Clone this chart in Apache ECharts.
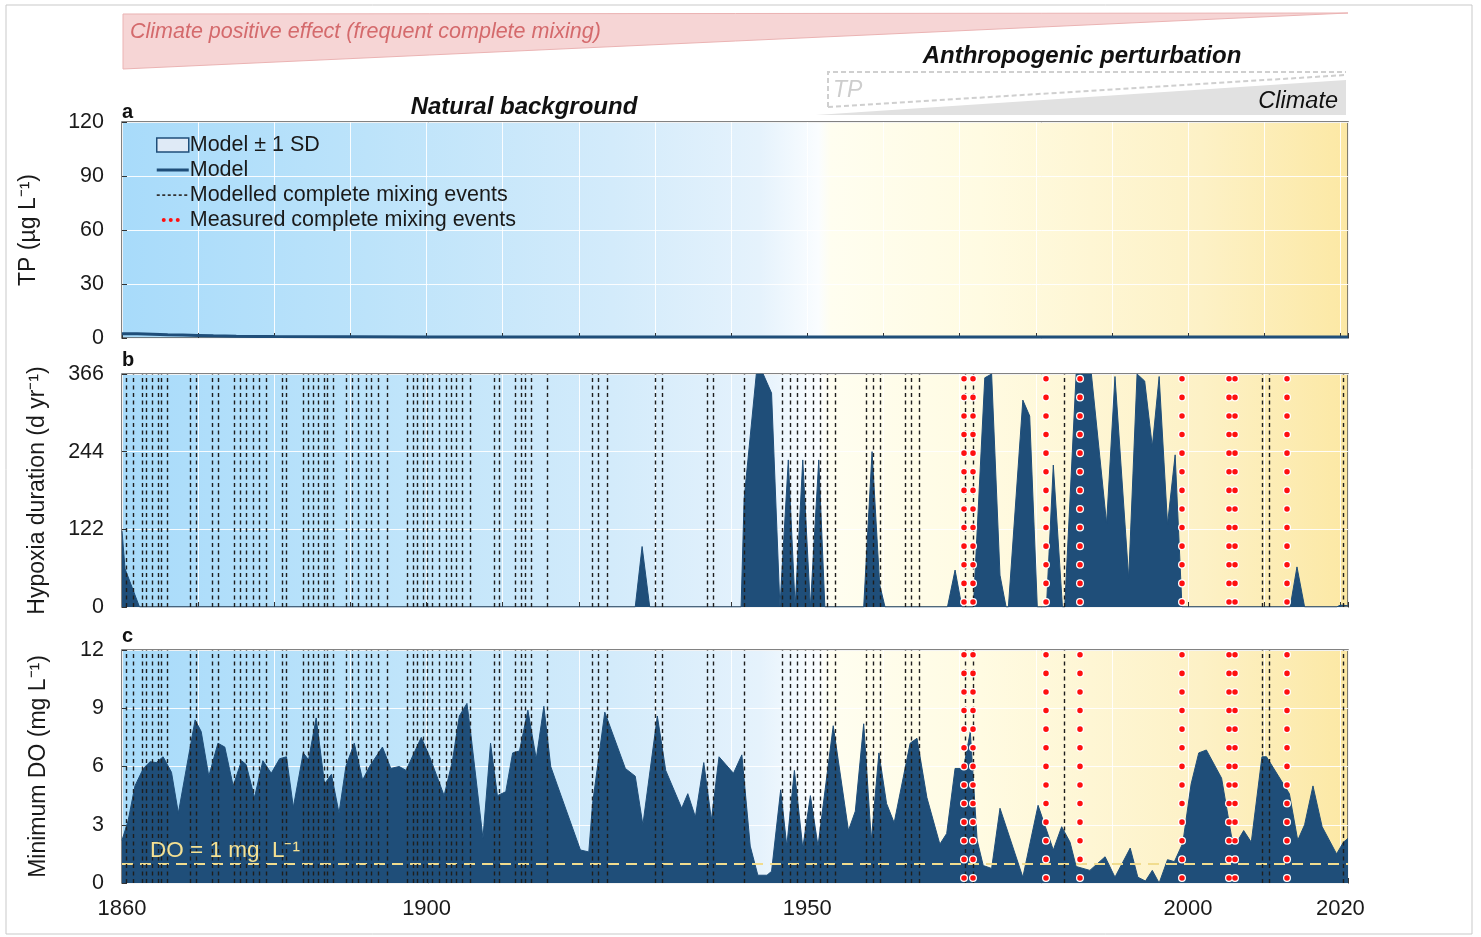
<!DOCTYPE html>
<html><head><meta charset="utf-8">
<script src="https://cdn.jsdelivr.net/npm/echarts@6/dist/echarts.min.js"></script>
<style>html,body{margin:0;padding:0;background:#fff}#c{width:1481px;height:937px}</style>
</head><body><div id="c"></div>
<script>
// ---------------- data ----------------
const X_LABELS = [1860, 1900, 1950, 2000, 2020];
const TP_YEARS  = [1860, 1862, 1864, 1866, 1868, 1870, 1872, 1875, 1878, 1880, 1890, 1900, 1920, 1940, 1960, 1980, 2000, 2021];
const TP_MODEL  = [2.4, 2.3, 2.1, 1.8, 1.6, 1.4, 1.2, 1.0, 0.9, 0.8, 0.7, 0.6, 0.6, 0.6, 0.6, 0.6, 0.6, 0.6];
const TP_SD_LOW = [1.4, 1.4, 1.3, 1.1, 1.0, 0.9, 0.8, 0.7, 0.6, 0.5, 0.4, 0.4, 0.4, 0.4, 0.4, 0.4, 0.4, 0.4];
const TP_SD_HIGH= [3.6, 3.4, 3.1, 2.7, 2.4, 2.0, 1.7, 1.4, 1.2, 1.1, 0.9, 0.8, 0.8, 0.8, 0.8, 0.8, 0.8, 0.8];

const HYPOXIA_YEARS = [1860.0, 1860.4, 1862.3, 1927.4, 1928.3, 1929.3, 1941.3, 1941.7, 1943.3, 1944.2, 1945.3, 1946.4,
  1946.5, 1947.5, 1948.4, 1948.5, 1949.4, 1950.4, 1950.5, 1951.5, 1952.3, 1957.4, 1958.5, 1959.5, 1960.2,
  1968.4, 1969.4, 1970.3, 1971.8, 1973.3, 1974.2, 1975.3, 1976.1, 1976.4, 1978.3, 1979.2, 1980.2,
  1981.4, 1982.3, 1983.5, 1983.8, 1985.3, 1987.3, 1989.3, 1990.4, 1992.2, 1993.3, 1994.3, 1995.3, 1996.2,
  1997.3, 1998.3, 1999.2, 2013.4, 2014.3, 2015.3, 2019.5, 2020.0, 2021.0];
const HYPOXIA_DAYS = [120, 60, 0, 0, 95, 0, 0, 170, 366, 366, 336, 0,
  0, 231, 0, 0, 231, 0, 0, 231, 0, 0, 244, 35, 0,
  0, 58, 0, 0, 360, 366, 50, 0, 0, 325, 300, 0,
  0, 223, 0, 0, 366, 366, 131, 362, 45, 366, 355, 252, 362,
  130, 239, 0, 0, 63, 0, 0, 3, 2];

const DO_YEARS = [1860.0, 1860.8, 1861.7, 1862.8, 1863.7, 1864.5, 1865.4, 1866.5, 1867.4, 1869.6, 1870.4, 1871.4,
  1872.6, 1873.5, 1874.6, 1875.7, 1876.3, 1877.4, 1878.5, 1879.6, 1880.7, 1881.6, 1882.5, 1883.8, 1884.5,
  1885.5, 1886.6, 1887.5, 1888.5, 1889.4, 1890.5, 1891.6, 1892.5, 1894.2, 1895.3, 1896.4, 1897.3, 1899.3,
  1900.4, 1902.3, 1903.4, 1904.3, 1905.3, 1905.8, 1907.4, 1908.4, 1909.3, 1910.4, 1911.3, 1912.2, 1913.3,
  1914.4, 1915.4, 1916.3, 1917.2, 1920.2, 1921.3, 1921.8, 1923.4, 1926.1, 1927.4, 1928.4, 1930.3, 1931.4,
  1933.5, 1934.3, 1935.3, 1936.4, 1937.4, 1938.4, 1940.3, 1941.4, 1942.5, 1943.5, 1944.7, 1945.3, 1946.5,
  1947.3, 1948.3, 1949.4, 1950.4, 1951.4, 1953.4, 1955.4, 1956.3, 1957.4, 1958.4, 1959.4, 1960.4, 1961.4,
  1963.5, 1964.4, 1965.7, 1967.4, 1968.3, 1969.4, 1970.5, 1971.4, 1972.3, 1973.1, 1974.2, 1975.3, 1978.3,
  1980.3, 1982.3, 1983.4, 1984.5, 1985.3, 1987.1, 1989.1, 1990.4, 1992.4, 1993.4, 1994.4, 1995.3, 1996.2,
  1997.3, 1998.2, 1999.3, 2000.4, 2001.4, 2002.4, 2004.4, 2005.7, 2006.4, 2007.3, 2008.3, 2009.7, 2010.3,
  2013.3, 2014.4, 2015.3, 2016.4, 2017.6, 2019.5, 2020.4, 2021.0];
const DO_MIN = [2.2, 3.2, 5.0, 5.9, 6.25, 6.2, 6.5, 5.7, 3.6, 8.4, 7.8, 5.5,
  7.2, 7.0, 5.0, 6.3, 6.1, 4.4, 6.3, 5.65, 6.4, 6.5, 3.9, 6.7, 6.35,
  8.5, 5.1, 5.6, 3.6, 6.0, 7.2, 5.3, 6.0, 7.0, 5.9, 6.0, 5.8, 7.5,
  6.5, 4.5, 6.3, 8.6, 9.25, 7.7, 2.3, 7.2, 4.5, 4.7, 6.7, 6.8, 8.9,
  6.4, 9.1, 6.0, 5.0, 1.7, 1.6, 4.1, 8.8, 5.9, 5.5, 3.0, 8.6, 5.8,
  3.85, 4.6, 3.4, 6.2, 3.25, 6.5, 5.65, 6.6, 1.9, 0.4, 0.4, 0.6, 4.8,
  1.9, 5.8, 1.8, 4.5, 1.9, 8.1, 2.7, 3.7, 8.2, 2.2, 6.7, 4.1, 3.1,
  7.2, 7.45, 4.4, 2.0, 2.55, 5.9, 5.9, 7.8, 2.2, 0.9, 0.75, 3.85, 0.3,
  4.0, 1.7, 2.9, 2.1, 0.85, 0.65, 1.35, 0.3, 1.8, 0.3, 0.1, 0.65, 0.0,
  1.2, 1.1, 2.05, 5.1, 6.7, 6.85, 5.4, 2.4, 2.1, 2.7, 2.1, 6.5, 6.5,
  4.6, 2.2, 3.0, 5.0, 2.9, 1.5, 2.1, 2.3];

const MODELLED_EVENTS = [1860.6, 1861.5, 1862.6, 1863.2, 1864.0, 1864.8, 1865.2, 1866.0, 1869.0, 1869.8,
  1871.9, 1872.6, 1874.8, 1875.5, 1876.3, 1877.2, 1878.0, 1879.0, 1881.1, 1881.6, 1883.8, 1884.4, 1885.1,
  1885.8, 1886.5, 1887.0, 1887.8, 1889.5, 1890.2, 1891.0, 1892.1, 1892.7, 1893.6, 1894.8, 1897.5, 1898.2,
  1898.8, 1899.6, 1900.1, 1900.8, 1901.7, 1902.6, 1903.2, 1903.9, 1904.7, 1905.7, 1908.9, 1909.5, 1911.6,
  1912.4, 1913.0, 1913.7, 1915.9, 1921.8, 1922.6, 1923.7, 1930.0, 1930.9, 1936.8, 1937.6, 1941.7, 1946.7,
  1947.8, 1948.7, 1949.7, 1950.8, 1951.7, 1952.6, 1953.6, 1957.8, 1958.6, 1959.6, 1962.8, 1963.6, 1964.7,
  1970.7, 1971.8, 1983.7, 2009.7, 2010.7, 2020.4];
const MEASURED_EVENTS = [1970.6, 1971.7, 1981.3, 1985.8, 1999.2, 2005.3, 2006.1, 2012.9];
const DO_THRESHOLD = 1;

// ---------------- helpers ----------------
const FONT = '"Liberation Sans", Arial, sans-serif';
const zip = (xs, ys) => xs.map((x, i) => [x, ys[i]]);
const DARK = '#1f4e79';

const bgGradient = {type: 'linear', x: 0, y: 0, x2: 1, y2: 0, colorStops: [
  {offset: 0, color: '#a8dbfa'}, {offset: 0.2, color: '#bce3fa'}, {offset: 0.4, color: '#d3ebfb'},
  {offset: 0.52, color: '#e5f2fc'}, {offset: 0.568, color: '#fafdff'}, {offset: 0.578, color: '#fffef0'},
  {offset: 0.7, color: '#fffbe2'}, {offset: 0.88, color: '#fdf1c6'}, {offset: 1, color: '#fce8a4'}]};

const grids = [
  {left: 122, right: 133, top: 122, height: 216},
  {left: 122, right: 133, top: 374, height: 233},
  {left: 122, right: 133, top: 650, height: 233}
].map(g => Object.assign(g, {show: true, backgroundColor: bgGradient, borderColor: '#5a5a5a', borderWidth: 1.5}));

const xAxes = [0, 1, 2].map(i => ({
  type: 'value', gridIndex: i, min: 1860, max: 2021, interval: 10,
  axisLine: {show: false},
  axisTick: {show: true, inside: true, length: 5, lineStyle: {color: '#333'}},
  splitLine: {show: true, lineStyle: {color: 'rgba(255,255,255,0.9)', width: 1}},
  axisLabel: {show: i === 2, customValues: X_LABELS, formatter: v => String(v),
    fontSize: 22, color: '#1a1a1a', fontFamily: FONT, margin: 15}
}));

function yAxis(i, max, interval, name, gap) {
  return {
    type: 'value', gridIndex: i, min: 0, max: max, interval: interval,
    name: name, nameLocation: 'middle', nameGap: gap,
    nameTextStyle: {fontSize: 23, color: '#1a1a1a', fontFamily: FONT},
    axisLine: {show: false},
    axisTick: {show: true, inside: true, length: 5, lineStyle: {color: '#333'}},
    splitLine: {show: true, lineStyle: {color: 'rgba(255,255,255,0.9)', width: 1}},
    axisLabel: {fontSize: 21.5, color: '#1a1a1a', fontFamily: FONT, margin: 18}
  };
}
const yAxes = [
  yAxis(0, 120, 30, 'TP (µg L⁻¹)', 82),
  yAxis(1, 366, 122, 'Hypoxia duration (d yr⁻¹)', 73),
  yAxis(2, 12, 3, 'Minimum DO (mg L⁻¹)', 72)
];

function eventSeries(axis, name, events, style) {
  return {
    type: 'line', name: name, xAxisIndex: axis, yAxisIndex: axis, data: [], symbol: 'none', silent: true,
    lineStyle: style,
    markLine: {silent: true, symbol: ['none', 'none'], label: {show: false}, emphasis: {disabled: true},
      lineStyle: style, data: events.map(v => ({xAxis: v}))}
  };
}
const dashStyle = {color: '#1e1e1e', type: [4, 3.5], width: 1.4};
const haloStyle = {color: '#ffffff', type: [0.1, 18.5], width: 8, cap: 'round', dashOffset: -5};
const dotStyle = {color: '#ff1010', type: [0.1, 18.5], width: 5.5, cap: 'round', dashOffset: -5};

const series = [
  {type: 'line', xAxisIndex: 0, yAxisIndex: 0, stack: 'sd', symbol: 'none', silent: true,
   lineStyle: {width: 0, opacity: 0}, data: zip(TP_YEARS, TP_SD_LOW)},
  {type: 'line', name: 'Model ± 1 SD', xAxisIndex: 0, yAxisIndex: 0, stack: 'sd', symbol: 'none', silent: true,
   lineStyle: {width: 1, color: DARK}, itemStyle: {color: '#dce8f4'},
   areaStyle: {color: '#dce8f4', opacity: 1}, data: zip(TP_YEARS, TP_SD_HIGH.map((h, i) => h - TP_SD_LOW[i]))},
  {type: 'line', name: 'Model', xAxisIndex: 0, yAxisIndex: 0, symbol: 'none', silent: true,
   lineStyle: {width: 3, color: DARK}, itemStyle: {color: DARK}, data: zip(TP_YEARS, TP_MODEL)},
  {type: 'line', name: 'Hypoxia duration', xAxisIndex: 1, yAxisIndex: 1, symbol: 'none', silent: true,
   lineStyle: {width: 1, color: DARK}, areaStyle: {color: DARK, opacity: 1}, data: zip(HYPOXIA_YEARS, HYPOXIA_DAYS)},
  {type: 'line', name: 'Minimum DO', xAxisIndex: 2, yAxisIndex: 2, symbol: 'none', silent: true,
   lineStyle: {width: 1, color: DARK}, areaStyle: {color: DARK, opacity: 1}, data: zip(DO_YEARS, DO_MIN),
   markLine: {silent: true, symbol: ['none', 'none'], data: [{yAxis: DO_THRESHOLD}],
     lineStyle: {color: '#f1dc8e', type: [11, 7], width: 2},
     label: {show: true, position: 'insideStartTop', formatter: 'DO = 1 mg  L⁻¹', color: '#f4e092',
       fontSize: 22.5, fontFamily: FONT, distance: [28, 1]}}},
  eventSeries(1, 'Modelled complete mixing events', MODELLED_EVENTS, dashStyle),
  eventSeries(2, 'Modelled complete mixing events', MODELLED_EVENTS, dashStyle),
  eventSeries(1, 'halo', MEASURED_EVENTS, haloStyle),
  eventSeries(2, 'halo', MEASURED_EVENTS, haloStyle),
  eventSeries(1, 'Measured complete mixing events', MEASURED_EVENTS, dotStyle),
  eventSeries(2, 'Measured complete mixing events', MEASURED_EVENTS, dotStyle)
];

const dashIcon = 'path://M0,0M32,14M0,6.3h3v1.6h-3zM5.5,6.3h3v1.6h-3zM11,6.3h3v1.6h-3zM16.5,6.3h3v1.6h-3zM22,6.3h3v1.6h-3zM27.5,6.3h3v1.6h-3z';
const dotIcon = 'path://M0,0M32,14M5,7a2,2 0 1,0 4,0a2,2 0 1,0 -4,0zM12,7a2,2 0 1,0 4,0a2,2 0 1,0 -4,0zM19,7a2,2 0 1,0 4,0a2,2 0 1,0 -4,0z';

const txt = (text, x, y, opts) => ({type: 'text', z: 50, silent: true,
  style: Object.assign({text: text, x: x, y: y, fontFamily: FONT, fontSize: 22, fill: '#111',
    textVerticalAlign: 'middle'}, opts)});

const graphic = [
  {type: 'rect', silent: true, z: -10, shape: {x: 6, y: 5, width: 1466, height: 929},
   style: {fill: null, stroke: '#c9c9c9', lineWidth: 1}},
  {type: 'polygon', silent: true, shape: {points: [[123, 14], [1348, 13], [123, 69]]},
   style: {fill: '#f6d5d5', stroke: '#ebb3b3', lineWidth: 1}},
  {type: 'polygon', silent: true, shape: {points: [[816, 115], [1346, 80], [1346, 115]]},
   style: {fill: '#e1e1e1', stroke: null}},
  {type: 'polyline', silent: true, shape: {points: [[828, 107], [828, 72], [1346, 72]]},
   style: {fill: null, stroke: '#cfcfcf', lineWidth: 2, lineDash: [5, 3]}},
  {type: 'line', silent: true, shape: {x1: 828, y1: 107, x2: 1346, y2: 75},
   style: {stroke: '#cfcfcf', lineWidth: 2, lineDash: [5, 3]}},
  txt('Climate positive effect (frequent complete mixing)', 130, 32, {fontSize: 21.5, fontStyle: 'italic', fill: '#d46a6c'}),
  txt('Anthropogenic perturbation', 1082, 56, {fontSize: 24, fontStyle: 'italic', fontWeight: 'bold', textAlign: 'center'}),
  txt('TP', 833, 91, {fontSize: 23, fontStyle: 'italic', fill: '#cdcdcd'}),
  txt('Climate', 1338, 101, {fontSize: 23.5, fontStyle: 'italic', textAlign: 'right'}),
  txt('Natural background', 524, 107, {fontSize: 24, fontStyle: 'italic', fontWeight: 'bold', textAlign: 'center'}),
  txt('a', 122, 112, {fontSize: 20, fontWeight: 'bold'}),
  txt('b', 122, 360, {fontSize: 20, fontWeight: 'bold'}),
  txt('c', 122, 636, {fontSize: 20, fontWeight: 'bold'})
];

const chart = echarts.init(document.getElementById('c'), null, {renderer: 'canvas'});
chart.setOption({
  animation: false,
  backgroundColor: '#ffffff',
  textStyle: {fontFamily: FONT},
  grid: grids,
  xAxis: xAxes,
  yAxis: yAxes,
  legend: {
    left: 151, top: 129, orient: 'vertical', itemWidth: 32, itemHeight: 14, itemGap: 3,
    selectedMode: false,
    textStyle: {fontSize: 21.5, color: '#1a1a1a', fontFamily: FONT, padding: [0, 0, 0, -4]},
    data: [
      {name: 'Model ± 1 SD', icon: 'rect', itemStyle: {color: '#dfeaf6', borderColor: DARK, borderWidth: 1.5}},
      {name: 'Model', icon: 'path://M0,0M32,14M0,5.5h32v3h-32z', itemStyle: {color: DARK, borderWidth: 0}},
      {name: 'Modelled complete mixing events', icon: dashIcon, itemStyle: {color: '#333', borderWidth: 0}},
      {name: 'Measured complete mixing events', icon: dotIcon, itemStyle: {color: '#ff1010', borderWidth: 0}}
    ]
  },
  graphic: graphic,
  series: series
});
</script></body></html>
